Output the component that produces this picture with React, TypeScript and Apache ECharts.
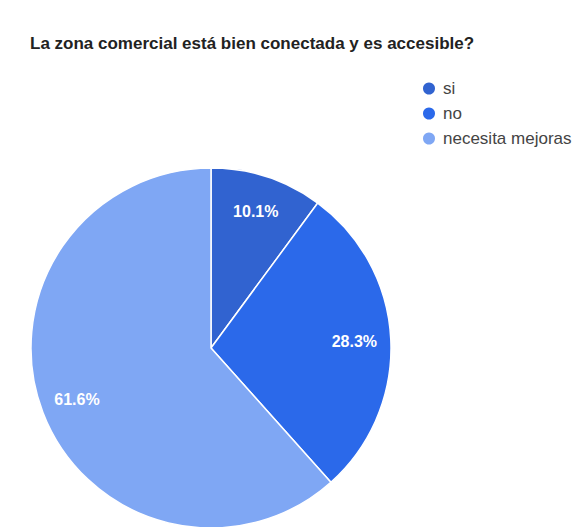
import React, { useEffect, useRef } from "react";
import * as echarts from "echarts";

const title = "La zona comercial está bien conectada y es accesible?";
const categories = ["si", "no", "necesita mejoras"];
const values = [10.1, 28.3, 61.6];
const colors = ["#3163d0", "#2b69ea", "#7fa7f4"];

export default function App() {
  const ref = useRef<HTMLDivElement>(null);
  useEffect(() => {
    document.body.style.margin = "0";
    const chart = echarts.init(ref.current!, null, { renderer: "svg" });
    const data = categories.map((name, i) => ({
      name,
      value: values[i],
      itemStyle: { color: colors[i] },
    }));
    chart.setOption({
      animation: false,
      backgroundColor: "#ffffff",
      title: {
        text: title,
        left: 25,
        top: 30,
        textStyle: {
          fontFamily: "Liberation Sans, Arial, sans-serif",
          fontSize: 17,
          fontWeight: "bold",
          color: "#222222",
        },
      },
      legend: {
        orient: "vertical",
        left: 416,
        top: 75,
        itemWidth: 14,
        itemHeight: 14,
        itemGap: 8,
        icon: "circle",
        textStyle: {
          fontFamily: "Liberation Sans, Arial, sans-serif",
          fontSize: 17,
          color: "#444444",
          padding: [0, 0, 0, 2],
        },
        data: categories,
      },
      series: [
        {
          type: "pie",
          center: [211, 348],
          radius: [0, 180],
          startAngle: 90,
          clockwise: true,
          silent: true,
          label: { show: false },
          labelLine: { show: false },
          itemStyle: { borderColor: "#ffffff", borderWidth: 1.5 },
          data,
        },
        {
          type: "pie",
          center: [211, 348],
          radius: [101, 180],
          startAngle: 90,
          clockwise: true,
          silent: true,
          legendHoverLink: false,
          itemStyle: { color: "transparent", borderWidth: 0 },
          label: {
            show: true,
            position: "inside",
            formatter: (p: any) => p.value.toFixed(1) + "%",
            color: "#ffffff",
            fontFamily: "Liberation Sans, Arial, sans-serif",
            fontSize: 16,
            fontWeight: "bold",
          },
          labelLine: { show: false },
          data: categories.map((name, i) => ({
            name: name + " ",
            value: values[i],
            itemStyle: { color: "transparent" },
          })),
        },
      ],
    });
    return () => chart.dispose();
  }, []);
  return (
    <div
      ref={ref}
      style={{ position: "absolute", left: 0, top: 0, width: 572, height: 527 }}
    />
  );
}
